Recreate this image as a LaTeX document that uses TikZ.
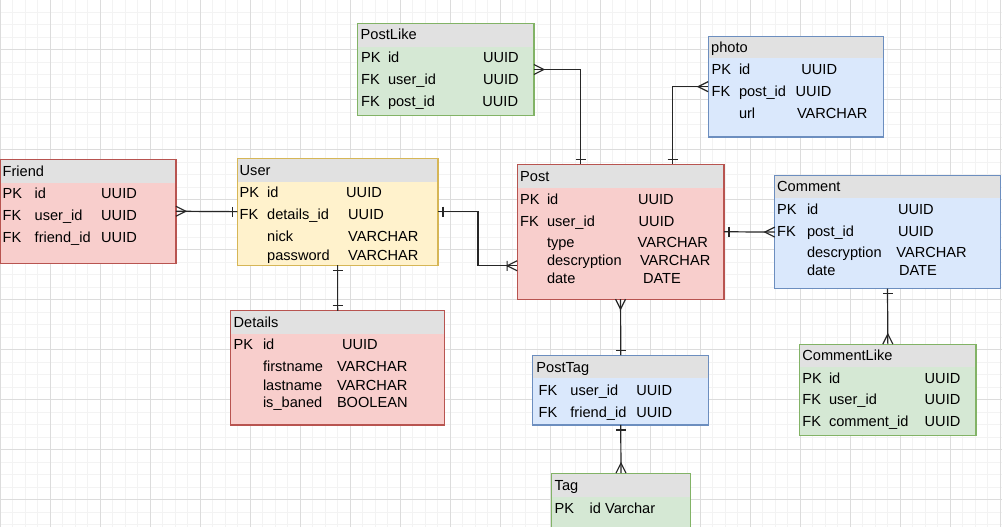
\documentclass[tikz,border=0pt]{standalone}
\usepackage{fontspec}
\setmainfont{Liberation Sans}
\usetikzlibrary{fit}
\definecolor{redfill}{HTML}{F8CECC}\definecolor{redline}{HTML}{B85450}
\definecolor{yelfill}{HTML}{FFF2CC}\definecolor{yelline}{HTML}{D6B656}
\definecolor{grnfill}{HTML}{D5E8D4}\definecolor{grnline}{HTML}{82B366}
\definecolor{blufill}{HTML}{DAE8FC}\definecolor{bluline}{HTML}{6C8EBF}
\definecolor{hdrcol}{HTML}{E1E1E1}
\definecolor{gridminor}{HTML}{F3F3F3}
\definecolor{gridmajor}{HTML}{DCDCDC}
\newcommand\ertable[7]{%
  \node[fit={(#2,#3) (#4,#5)}, inner sep=0pt, fill=#7fill] (#1) {};
  \fill[hdrcol] (#2,#3) rectangle (#4,#6);
  \draw[draw=#7line, line width=1.2pt] (#1.north west) rectangle (#1.south east);
}
\tikzset{
  txt/.style={anchor=base west, inner sep=0pt, text=black, font=\fontsize{14.6}{17}\selectfont},
  conn/.style={draw=black!85, line width=1.2pt},
  onemark/.pic={\draw[conn] (5,-5) -- (5,5);},
  manymark/.pic={\draw[conn] (0,-5) -- (10,0) -- (0,5);},
  onemanymark/.pic={\draw[conn] (0,-5) -- (10,0) -- (0,5) (10,-5) -- (10,5);},
}
\begin{document}
\begin{tikzpicture}[x=1pt,y=-1pt]
\useasboundingbox (0,0) rectangle (1002,527);
\clip (0,0) rectangle (1002,527);
\fill[white] (0,0) rectangle (1002,527);
% grid
\foreach \i in {0,...,80} {
  \pgfmathsetmacro\xx{12.5*\i}
  \draw[gridminor, line width=0.9pt] (\xx,0) -- (\xx,527);
}
\foreach \i in {0,...,43} {
  \pgfmathsetmacro\yy{12.5*\i-0.5}
  \draw[gridminor, line width=0.9pt] (0,\yy) -- (1002,\yy);
}
\foreach \i in {0,...,20} {
  \draw[gridmajor, line width=0.9pt] (50*\i,0) -- (50*\i,527);
}
\foreach \i in {0,...,10} {
  \pgfmathsetmacro\yy{50*\i-0.5}
  \draw[gridmajor, line width=0.9pt] (0,\yy) -- (1002,\yy);
}

% tables
\ertable{friend}{0.5}{159.5}{175.7}{263}{182.7}{red}
\ertable{user}{237.5}{158.3}{437.7}{265}{182.3}{yel}
\ertable{postlike}{358}{24}{533.7}{115}{46.7}{grn}
\ertable{photo}{708.3}{36.7}{883.3}{136.7}{58.5}{blu}
\ertable{post}{517.3}{164.5}{723.8}{299}{187.5}{red}
\ertable{comment}{775}{175.7}{1000}{288.5}{197.7}{blu}
\ertable{details}{231}{311}{444.3}{424.7}{333.7}{red}
\ertable{posttag}{533}{355.3}{708.5}{424.7}{378}{blu}
\ertable{commentlike}{800}{344.3}{975.7}{435}{367.3}{grn}
\ertable{tag}{552}{473.3}{690}{545}{496.7}{grn}

% Friend
\node[txt] (friend-t) at (2.5,176.7) {Friend};
\node[txt] (friend-1a) at (2.5,198.3) {PK};
\node[txt] (friend-1b) at (34.5,198.3) {id};
\node[txt] (friend-1c) at (101,198.3) {UUID};
\node[txt] (friend-2a) at (2.5,220.7) {FK};
\node[txt] (friend-2b) at (34.5,220.7) {user\_id};
\node[txt] (friend-2c) at (101,220.7) {UUID};
\node[txt] (friend-3a) at (2.5,242.7) {FK};
\node[txt] (friend-3b) at (34.5,242.7) {friend\_id};
\node[txt] (friend-3c) at (101,242.7) {UUID};
% User
\node[txt] (user-t) at (239.5,175) {User};
\node[txt] (user-1a) at (239.5,197.7) {PK};
\node[txt] (user-1b) at (267,197.7) {id};
\node[txt] (user-1c) at (346,197.7) {UUID};
\node[txt] (user-2a) at (239.5,219.3) {FK};
\node[txt] (user-2b) at (267,219.3) {details\_id};
\node[txt] (user-2c) at (348,219.3) {UUID};
\node[txt] (user-3b) at (267,241.7) {nick};
\node[txt] (user-3c) at (348,241.7) {VARCHAR};
\node[txt] (user-4b) at (267,260) {password};
\node[txt] (user-4c) at (348,260) {VARCHAR};
% PostLike
\node[txt] (postlike-t) at (360.5,40) {PostLike};
\node[txt] (postlike-1a) at (361,62.7) {PK};
\node[txt] (postlike-1b) at (387.8,62.7) {id};
\node[txt] (postlike-1c) at (482.8,62.7) {UUID};
\node[txt] (postlike-2a) at (361,84.3) {FK};
\node[txt] (postlike-2b) at (387.8,84.3) {user\_id};
\node[txt] (postlike-2c) at (482.8,84.3) {UUID};
\node[txt] (postlike-3a) at (361,106.7) {FK};
\node[txt] (postlike-3b) at (387.8,106.7) {post\_id};
\node[txt] (postlike-3c) at (482.2,106.7) {UUID};
% photo
\node[txt] (photo-t) at (711,52.5) {photo};
\node[txt] (photo-1a) at (711.5,74.3) {PK};
\node[txt] (photo-1b) at (738.8,74.3) {id};
\node[txt] (photo-1c) at (801.2,74.3) {UUID};
\node[txt] (photo-2a) at (711.5,96.7) {FK};
\node[txt] (photo-2b) at (738.8,96.7) {post\_id};
\node[txt] (photo-2c) at (795.5,96.7) {UUID};
\node[txt] (photo-3b) at (738.8,118.3) {url};
\node[txt] (photo-3c) at (796.8,118.3) {VARCHAR};
% Post
\node[txt] (post-t) at (520,181.7) {Post};
\node[txt] (post-1a) at (520,204) {PK};
\node[txt] (post-1b) at (546.8,204) {id};
\node[txt] (post-1c) at (637.8,204) {UUID};
\node[txt] (post-2a) at (520,226) {FK};
\node[txt] (post-2b) at (546.8,226) {user\_id};
\node[txt] (post-2c) at (638.5,226) {UUID};
\node[txt] (post-3b) at (546.8,247.7) {type};
\node[txt] (post-3c) at (637.5,247.7) {VARCHAR};
\node[txt] (post-4b) at (546.8,265.7) {descryption};
\node[txt] (post-4c) at (639.8,265.7) {VARCHAR};
\node[txt] (post-5b) at (546.8,283.3) {date};
\node[txt] (post-5c) at (642.8,283.3) {DATE};
% Comment
\node[txt] (comment-t) at (777,191.7) {Comment};
\node[txt] (comment-1a) at (777,214) {PK};
\node[txt] (comment-1b) at (806.8,214) {id};
\node[txt] (comment-1c) at (897.8,214) {UUID};
\node[txt] (comment-2a) at (777,236) {FK};
\node[txt] (comment-2b) at (806.8,236) {post\_id};
\node[txt] (comment-2c) at (897.8,236) {UUID};
\node[txt] (comment-3b) at (806.8,257.7) {descryption};
\node[txt] (comment-3c) at (896.2,257.7) {VARCHAR};
\node[txt] (comment-4b) at (806.8,275.3) {date};
\node[txt] (comment-4c) at (898.8,275.3) {DATE};
% Details
\node[txt] (details-t) at (233.5,327.7) {Details};
\node[txt] (details-1a) at (233.5,349.3) {PK};
\node[txt] (details-1b) at (262.8,349.3) {id};
\node[txt] (details-1c) at (341.8,349.3) {UUID};
\node[txt] (details-2b) at (262.8,371.7) {firstname};
\node[txt] (details-2c) at (336.8,371.7) {VARCHAR};
\node[txt] (details-3b) at (262.8,390) {lastname};
\node[txt] (details-3c) at (336.8,390) {VARCHAR};
\node[txt] (details-4b) at (262.8,407.7) {is\_baned};
\node[txt] (details-4c) at (336.8,407.7) {BOOLEAN};
% PostTag
\node[txt] (posttag-t) at (536.2,372.3) {PostTag};
\node[txt] (posttag-1a) at (538.5,395.7) {FK};
\node[txt] (posttag-1b) at (570.2,395.7) {user\_id};
\node[txt] (posttag-1c) at (636.2,395.7) {UUID};
\node[txt] (posttag-2a) at (538.5,417.7) {FK};
\node[txt] (posttag-2b) at (570.2,417.7) {friend\_id};
\node[txt] (posttag-2c) at (636.2,417.7) {UUID};
% CommentLike
\node[txt] (commentlike-t) at (802.2,360.7) {CommentLike};
\node[txt] (commentlike-1a) at (802.2,383.3) {PK};
\node[txt] (commentlike-1b) at (828.8,383.3) {id};
\node[txt] (commentlike-1c) at (924.5,383.3) {UUID};
\node[txt] (commentlike-2a) at (802.2,404.3) {FK};
\node[txt] (commentlike-2b) at (828.8,404.3) {user\_id};
\node[txt] (commentlike-2c) at (924.5,404.3) {UUID};
\node[txt] (commentlike-3a) at (802.2,426.7) {FK};
\node[txt] (commentlike-3b) at (828.8,426.7) {comment\_id};
\node[txt] (commentlike-3c) at (924.5,426.7) {UUID};
% Tag
\node[txt] (tag-t) at (554.5,490) {Tag};
\node[txt] (tag-1a) at (554.5,513.3) {PK};
\node[txt] (tag-1b) at (589.5,513.3) {id Varchar};

% connectors
\draw[conn] (friend.east) -- (user.west);
\draw[conn] (user.east) -- ++(40,0) |- ([yshift=-34pt]post.west);
\draw[conn] (postlike.east) -| ([xshift=-40pt]post.north);
\draw[conn] (photo.west) -| ([xshift=52pt]post.north);
\draw[conn] (post.east) -- (comment.west);
\draw[conn] (post.south) -- (posttag.north);
\draw[conn] (posttag.south) -- (tag.north);
\draw[conn] (comment.south) -- (commentlike.north);
\draw[conn] (user.south) -- (details.north);

% end marks
\path (friend.east) pic {manymark};
\path (user.west) pic[rotate=180] {onemark};
\path (user.east) pic {onemark};
\path ([yshift=-34pt]post.west) pic[rotate=180] {onemanymark};
\path (postlike.east) pic {manymark};
\path ([xshift=-40pt]post.north) pic[rotate=90] {onemark};
\path (photo.west) pic[rotate=180] {manymark};
\path ([xshift=52pt]post.north) pic[rotate=90] {onemark};
\path (post.east) pic {onemark};
\path (comment.west) pic[rotate=180] {manymark};
\path (post.south) pic[rotate=-90] {manymark};
\path (posttag.north) pic[rotate=90] {onemark};
\path (posttag.south) pic[rotate=-90] {onemark};
\path (tag.north) pic[rotate=90] {manymark};
\path (comment.south) pic[rotate=-90] {onemark};
\path (commentlike.north) pic[rotate=90] {manymark};
\path (user.south) pic[rotate=-90] {onemark};
\path (details.north) pic[rotate=90] {onemark};
\end{tikzpicture}
\end{document}
